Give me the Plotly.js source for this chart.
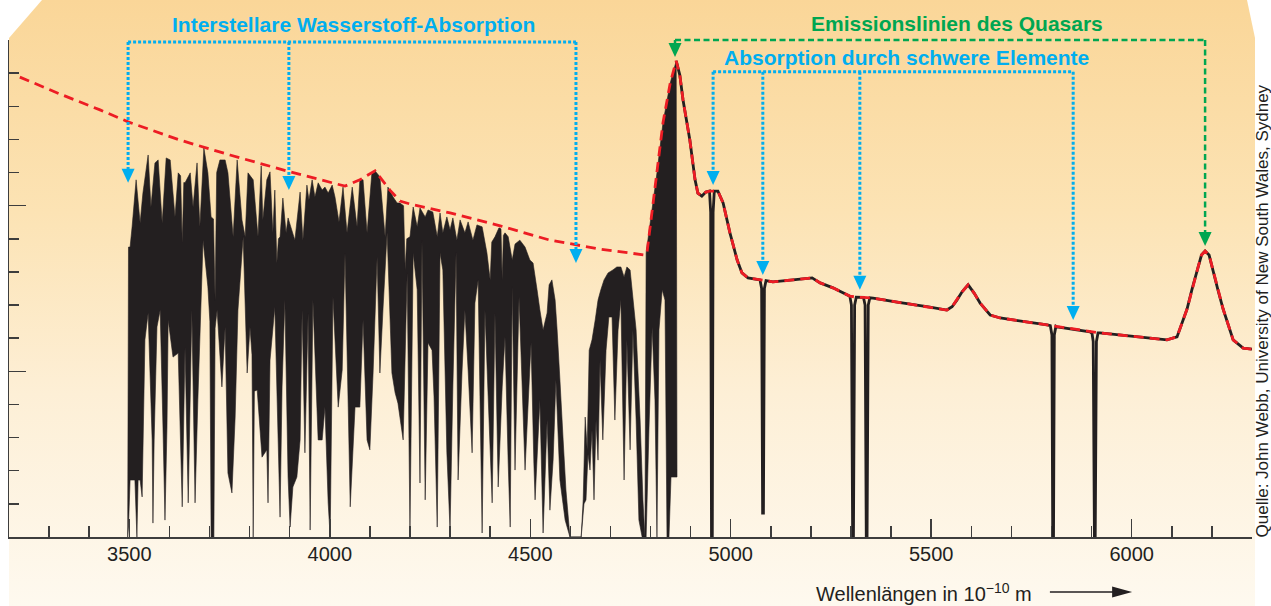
<!DOCTYPE html>
<html><head><meta charset="utf-8">
<script src="https://cdn.plot.ly/plotly-3.0.1.min.js"></script>
<style>
html,body{margin:0;padding:0;background:#fff;}
#wrap{position:relative;width:1271px;height:606px;overflow:hidden;background:#fff;}
#bg{position:absolute;left:0;top:0;width:1271px;height:606px;
 background:linear-gradient(to bottom,#FAD698 0%,#FCE3B4 35%,#FDEFD6 65%,#FEF9EF 100%);
 clip-path:polygon(42px 0,1247px 0,1255px 38px,1255px 606px,9px 606px,9px 38px);}
#chart{position:absolute;left:0;top:0;width:1271px;height:606px;}
</style></head>
<body><div id="wrap"><div id="bg"></div><div id="chart"></div></div>
<script>
// ---------- DATA (wavelength in 1e-10 m, relative flux) ----------
// Lyman-alpha forest: upper edge of the black band
const forestTopWl = [3496,3498,3502,3507,3517,3527,3534,3547,3554,3564,3572,3582,3592,3602,3614,3622,3628,3632,3636,3639,3652,3659,3669,3676,3686,3696,3704,3710,3714,3718,3726,3739,3746,3759,3769,3781,3789,3796,3809,3821,3829,3833,3843,3851,3858,3863,3868,3872,3876,3883,3891,3896,3913,3926,3933,3943,3948,3956,3963,3971,3981,3988,3996,4006,4013,4023,4033,4043,4056,4068,4075,4083,4093,4105,4113,4125,4138,4145,4158,4168,4175,4184,4188,4192,4200,4208,4218,4225,4238,4245,4257,4268,4275,4282,4292,4300,4307,4317,4325,4337,4345,4357,4367,4380,4392,4400,4404,4412,4422,4427,4430,4433,4437,4445,4455,4462,4474,4487,4499,4507,4517,4524,4532,4542,4547,4554,4562,4567,4574,4582,4589,4599,4627,4632,4637,4642,4647,4654,4662,4669,4676,4684,4694,4706,4716,4726,4734,4741,4749,4754,4764,4774,4781,4786,4789,4816,4831,4849,4864,4866];
const forestTopFlux = [0,8.75,8.75,9.36,10.78,9.48,10.38,11.53,9.96,11.29,11.38,9.48,11.44,11.38,9.66,10.99,10.9,8.87,10.7,10.69,10.99,9.96,11.29,9.36,11.74,10.99,9.66,9.6,7.15,11.0,11.38,11.38,10.99,9.06,11.38,9.57,9.06,10.99,10.78,9.06,11.2,9.57,10.78,11.02,9.18,10.47,8.27,9.0,9.06,10.23,9.18,9.63,8.96,10.41,8.96,10.62,10.17,10.78,10.26,10.69,10.47,10.56,10.38,10.62,10.26,9.51,10.56,9.18,10.56,9.36,10.78,10.78,9.18,10.99,11.05,10.87,9.06,10.56,10.26,10.08,10.08,10.0,8.06,9.0,9.06,9.96,9.36,9.93,9.66,9.87,9.81,9.06,9.78,9.18,9.66,9.27,9.63,8.96,9.57,9.18,9.51,8.96,9.42,9.36,8.57,7.76,8.9,9.06,9.33,9.3,7.76,9.1,9.18,9.06,8.36,8.84,8.96,8.75,8.36,8.27,7.46,6.85,6.25,6.76,7.61,7.76,7.15,6.25,4.74,2.93,1.42,0,0,1.12,3.62,2.63,5.64,5.95,6.55,7.15,7.46,7.76,7.97,8.06,8.15,8.15,7.85,8.15,8.06,7.46,6.25,3.53,1.12,0,8.57,10.99,12.50,13.70,14.37,1.81];
// Lyman-alpha forest: lower edge of the black band
const forestBottomWl = [3496,3498,3502,3514,3519,3522,3527,3532,3539,3547,3557,3559,3562,3569,3577,3584,3589,3594,3597,3609,3622,3632,3639,3647,3656,3664,3671,3684,3696,3701,3704,3711,3714,3719,3731,3739,3746,3756,3764,3771,3784,3794,3801,3806,3809,3812,3819,3831,3843,3846,3851,3863,3876,3881,3888,3896,3901,3908,3918,3926,3931,3938,3946,3951,3958,3971,3981,3988,3996,4001,4008,4021,4031,4038,4046,4051,4063,4075,4083,4093,4100,4108,4118,4125,4133,4143,4155,4163,4170,4183,4193,4200,4208,4218,4225,4230,4238,4245,4255,4260,4268,4275,4282,4292,4300,4307,4315,4320,4330,4337,4345,4355,4362,4370,4380,4387,4395,4405,4412,4420,4430,4437,4445,4450,4455,4462,4472,4479,4487,4494,4502,4509,4512,4524,4532,4542,4549,4557,4564,4574,4587,4599,4627,4634,4639,4644,4649,4654,4659,4664,4669,4674,4681,4689,4696,4704,4711,4719,4726,4734,4741,4749,4756,4764,4771,4779,4786,4789,4796,4804,4811,4816,4821,4829,4836,4841,4846,4851,4866];
const forestBottomFlux = [0,0.3,1.72,1.72,0,1.72,1.72,1.21,5.95,6.76,2.93,0.42,2.93,6.34,6.85,3.32,0.51,3.32,6.55,5.43,5.55,0.91,5.73,1.03,6.85,1.03,4.14,8.96,7.55,6.5,0,0,6.3,6.85,4.53,6.34,1.93,1.33,3.62,6.85,9.06,4.95,6.34,5.5,0,4.4,4.44,2.41,2.63,1.03,5.34,6.94,0.60,4.53,7.15,1.81,0.30,1.51,1.81,2.93,6.85,2.54,6.76,0.21,7.15,2.93,2.93,3.92,1.03,0,7.24,3.92,5.04,8.57,3.92,0.91,3.92,3.92,6.55,2.93,2.63,4.95,8.45,4.95,6.94,9.18,4.95,4.35,4.04,2.93,7.97,0.21,8.57,7.46,1.63,8.96,1.12,5.86,5.64,4.23,0.30,8.57,8.06,2.54,0.21,4.53,8.6,1.72,5.04,6.85,5.04,2.54,7.06,7.76,0.12,6.85,4.23,1.03,6.76,1.51,4.53,6.04,2.23,0.30,7.55,2.02,7.24,4.83,2.02,3.83,5.86,2.23,1.12,4.14,0.12,3.53,0.81,2.32,4.74,1.72,0.51,0,0,1.0,1.12,2.5,2.02,3.23,1.12,3.53,2.32,5.34,2.93,5.64,6.64,6.64,3.53,6.25,7.15,1.72,5.95,2.63,6.25,3.53,0.51,0,0,0,3.23,6.34,4.14,0,6.25,7.46,7.15,0,0,1.81,1.81];
// red side of the spectrum (with metal absorption lines)
const spectrumWl = [4864,4873,4881,4898,4911,4918,4928,4938,4947,4950,4952,4954,4956,4959,4968,4981,4998,5016,5028,5043,5073,5077,5079.5,5081.5,5084,5088,5105,5155,5203,5223,5255,5297,5301,5304,5306,5309,5313,5331,5335,5338,5340,5343,5347,5355,5415,5497,5539,5552,5564,5577,5592,5607,5622,5647,5672,5789,5797,5801,5803,5805,5807,5811,5814,5896,5901,5904,5907,5909,5912,5916,5921,6088,6113,6138,6150,6163,6174,6183,6193,6203,6215,6228,6253,6278,6300];
const spectrumFlux = [14.37,13.94,13.19,11.98,10.78,10.38,10.29,10.41,10.44,9.8,0,0,9.8,10.44,10.44,10.08,9.18,8.36,7.97,7.82,7.76,7.5,0.72,0.72,7.5,7.74,7.70,7.76,7.82,7.67,7.52,7.27,7.0,0,0,7.0,7.24,7.23,7.0,0,0,7.0,7.22,7.21,7.09,6.94,6.85,6.95,7.15,7.40,7.61,7.36,7.06,6.70,6.61,6.40,6.38,6.1,0,0,6.1,6.36,6.34,6.19,6.15,5.9,0,0,5.9,6.16,6.16,5.95,6.04,6.88,7.46,8.03,8.51,8.63,8.51,8.03,7.46,6.88,5.95,5.70,5.67];
// unabsorbed continuum (red dashed)
const continuumWl = [3227,3327,3427,3497,3626,3751,3901,3976,4038,4075,4113,4150,4175,4200,4300,4425,4549,4674,4786,4791,4816,4831,4849,4864,4873,4881,4898,4911,4918,4928,4938,4947,4959,4968,4981,4998,5016,5028,5043,5073,5088,5105,5155,5203,5223,5255,5297,5313,5331,5347,5355,5415,5497,5539,5552,5564,5577,5592,5607,5622,5647,5672,5789,5814,5896,5921,6088,6113,6138,6150,6163,6174,6183,6193,6203,6215,6228,6253,6278,6300];
const continuumFlux = [13.88,13.37,12.89,12.53,11.98,11.53,11.02,10.78,10.59,10.78,11.05,10.47,10.14,10.05,9.78,9.39,8.96,8.69,8.51,8.57,10.99,12.50,13.70,14.37,13.94,13.19,11.98,10.78,10.38,10.29,10.41,10.44,10.44,10.44,10.08,9.18,8.36,7.97,7.82,7.76,7.74,7.70,7.76,7.82,7.67,7.52,7.27,7.24,7.23,7.22,7.21,7.09,6.94,6.85,6.95,7.15,7.40,7.61,7.36,7.06,6.70,6.61,6.40,6.34,6.19,6.16,5.95,6.04,6.88,7.46,8.03,8.51,8.63,8.51,8.03,7.46,6.88,5.95,5.70,5.67];
// annotation arrows: wavelength, arrow-tip flux, bracket level
const hydrogenArrowWl = [3497, 3898, 4614];
const hydrogenArrowTip = [10.69, 10.47, 8.27];
const hydrogenBracket = 14.94;
const metalArrowWl = [4956, 5080, 5322, 5854];
const metalArrowTip = [10.62, 7.91, 7.46, 6.55];
const metalBracket = 14.04;
const emissionArrowWl = [4861, 6183];
const emissionArrowTip = [14.49, 8.78];
const emissionBracket = 15.0;

// ---------- STYLE ----------
const BLACK = '#231F20', RED = '#ED1C24', BLUE = '#00AEEF', GREEN = '#00A651', AX = '#3d3d3d', TXT = '#231F20';
const FONT = 'Liberation Sans, Arial, Helvetica, sans-serif';
const Y_MAX = 15, W = 1271, H = 606, M = {l: 9, r: 19, t: 40, b: 69};
const PLOT_H = H - M.t - M.b;
const PLOT_W = W - M.l - M.r;
function py2paper(py) { return (H - M.b - py) / PLOT_H; }

function bracket(wls, tips, level, color, dash, width) {
  const shapes = [];
  const yl = level / Y_MAX;
  shapes.push({type: 'line', xref: 'x', yref: 'paper', x0: wls[0], x1: wls[wls.length - 1], y0: yl, y1: yl,
    line: {color: color, width: width, dash: dash}});
  wls.forEach(function (w, i) {
    const tp = tips[i] / Y_MAX;
    shapes.push({type: 'line', xref: 'x', yref: 'paper', x0: w, x1: w, y0: yl, y1: tp + 10 / PLOT_H,
      line: {color: color, width: width, dash: dash}});
    shapes.push({type: 'path', xref: 'x', yref: 'paper', xsizemode: 'pixel', ysizemode: 'pixel',
      xanchor: w, yanchor: tp, path: 'M-6.5,14 L6.5,14 L0,0 Z', fillcolor: color, line: {width: 0}});
  });
  return shapes;
}

const axisTitleY = py2paper(592);
const shapes = [].concat(
  bracket(hydrogenArrowWl, hydrogenArrowTip, hydrogenBracket, BLUE, '3px,2px', 3),
  bracket(metalArrowWl, metalArrowTip, metalBracket, BLUE, '3px,2px', 3),
  bracket(emissionArrowWl, emissionArrowTip, emissionBracket, GREEN, '6px,3.5px', 2.5),
  [
    {type: 'line', xref: 'x', yref: 'paper', x0: 5796, x1: 5975, y0: axisTitleY, y1: axisTitleY, line: {color: TXT, width: 1.3}},
    {type: 'path', xref: 'x', yref: 'paper', xsizemode: 'pixel', ysizemode: 'pixel', xanchor: 6001, yanchor: axisTitleY,
      path: 'M0,0 L-20,5.5 L-20,-5.5 Z', fillcolor: TXT, line: {width: 0}}
  ]
);

const traces = [
  {x: forestTopWl, y: forestTopFlux, mode: 'lines', line: {color: BLACK, width: 0.6, simplify: false},
    hoverinfo: 'skip', showlegend: false},
  {x: forestBottomWl, y: forestBottomFlux, mode: 'lines', fill: 'tonexty', fillcolor: BLACK,
    line: {color: BLACK, width: 0.6, simplify: false}, hoverinfo: 'skip', showlegend: false},
  {x: spectrumWl, y: spectrumFlux, mode: 'lines', line: {color: BLACK, width: 2.8, simplify: false},
    hoverinfo: 'skip', showlegend: false},
  {x: continuumWl, y: continuumFlux, mode: 'lines', line: {color: RED, width: 2.8, dash: '10px,6px'},
    hoverinfo: 'skip', showlegend: false}
];

const annotations = [
  {xref: 'x', yref: 'paper', x: 4058, y: py2paper(24), xanchor: 'center', yanchor: 'middle', showarrow: false,
    text: '<b>Interstellare Wasserstoff-Absorption</b>', font: {family: FONT, size: 21, color: BLUE}},
  {xref: 'x', yref: 'paper', x: 5564, y: py2paper(23), xanchor: 'center', yanchor: 'middle', showarrow: false,
    text: '<b>Emissionslinien des Quasars</b>', font: {family: FONT, size: 21, color: GREEN}},
  {xref: 'x', yref: 'paper', x: 5438, y: py2paper(57), xanchor: 'center', yanchor: 'middle', showarrow: false,
    text: '<b>Absorption durch schwere Elemente</b>', font: {family: FONT, size: 21, color: BLUE}},
  {xref: 'x', yref: 'paper', x: 5482, y: axisTitleY, xanchor: 'center', yanchor: 'middle', showarrow: false,
    text: 'Wellenlängen in 10<sup>−10</sup> m', font: {family: FONT, size: 20, color: TXT}},
  {xref: 'paper', yref: 'paper', x: (1262 - M.l) / PLOT_W, y: py2paper(311.5), showarrow: false,
    textangle: -90, xanchor: 'center', yanchor: 'middle', borderpad: 0,
    text: 'Quelle: John Webb, University of New South Wales, Sydney', font: {family: FONT, size: 17, color: TXT}}
];

const layout = {
  width: W, height: H, margin: M,
  paper_bgcolor: 'rgba(0,0,0,0)', plot_bgcolor: 'rgba(0,0,0,0)',
  showlegend: false,
  xaxis: {range: [3200, 6300], showline: true, linecolor: AX, linewidth: 1.5,
    ticks: 'inside', ticklen: 18, tickwidth: 1.5, tickcolor: AX, tick0: 3500, dtick: 500,
    tickfont: {family: FONT, size: 20, color: TXT}, ticklabelstandoff: -2,
    showgrid: false, zeroline: false, fixedrange: true,
    minor: {ticks: 'inside', ticklen: 11, tickwidth: 1.5, tickcolor: AX, dtick: 100, tick0: 3200, showgrid: false}},
  yaxis: {range: [0, Y_MAX], showline: true, linecolor: AX, linewidth: 1.5,
    ticks: 'inside', ticklen: 17, tickwidth: 1.5, tickcolor: AX, tick0: 0, dtick: 5,
    showticklabels: false, showgrid: false, zeroline: false, fixedrange: true,
    minor: {ticks: 'inside', ticklen: 10, tickwidth: 1.5, tickcolor: AX, dtick: 1, showgrid: false}},
  shapes: shapes,
  annotations: annotations
};

Plotly.newPlot('chart', traces, layout, {displayModeBar: false, staticPlot: true});
</script>
</body></html>
